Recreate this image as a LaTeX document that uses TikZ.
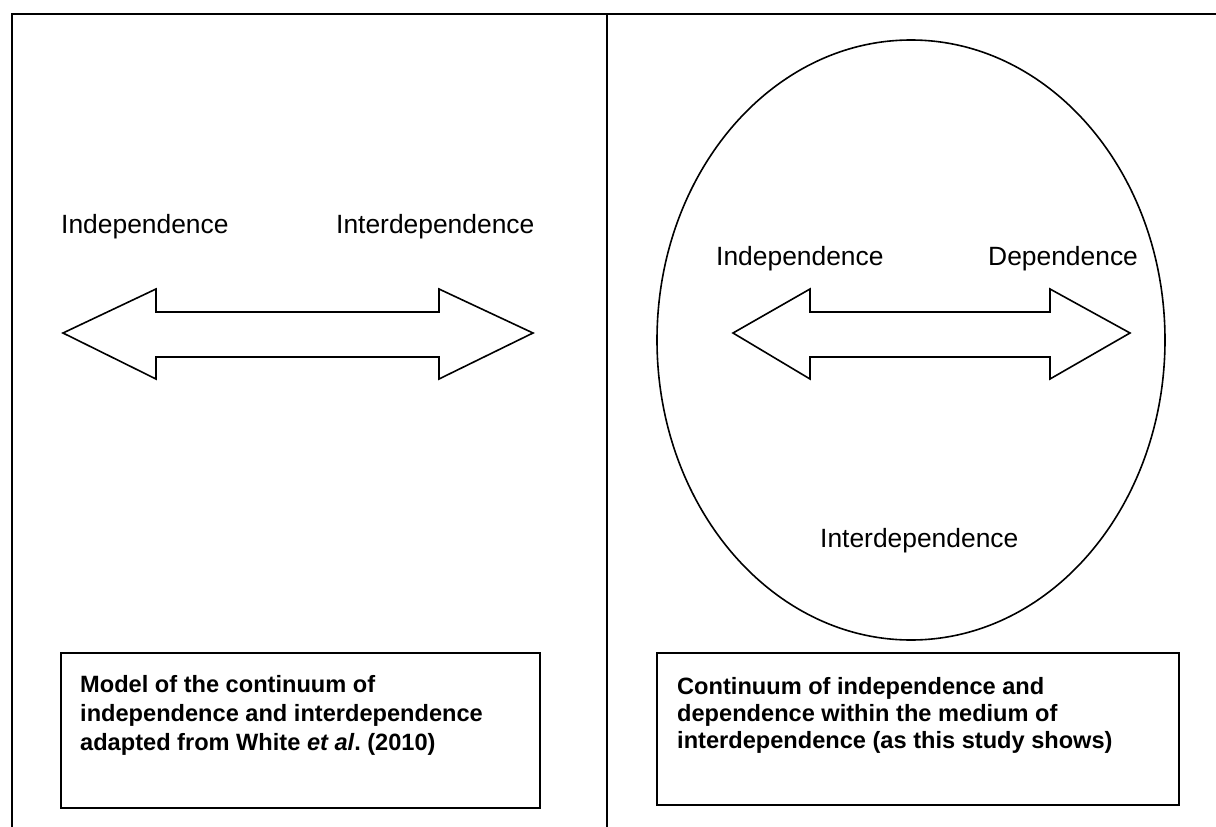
\documentclass[tikz,border=0pt]{standalone}
\usepackage{fontspec}
\setmainfont{Liberation Sans}
\tikzset{
  frame/.style={line width=2.6pt, line cap=rect},
  arrowshape/.style={draw, line width=1.6pt, line join=miter},
  capbox/.style={draw, line width=1.8pt},
  lbl/.style={anchor=base west, inner sep=0pt, font=\fontsize{26.4}{30}\selectfont},
  captext/.style={anchor=base west, inner sep=0pt, font=\fontsize{23.6}{28}\selectfont\bfseries}
}
\begin{document}
\begin{tikzpicture}[x=1pt,y=-1pt]
\useasboundingbox (0,0) rectangle (1216,827);
% frame
\coordinate (tl) at (12,14);
\coordinate (tr) at (1217,14);
\coordinate (bl) at (12,828);
\coordinate (dt) at (607,14);
\coordinate (db) at (607,828);
\draw[frame] (bl) -- (tl) -- (tr);
\draw[frame] (dt) -- (db);
% left panel
\node[lbl] (l1) at (61,233) {Independence};
\node[lbl] (l2) at (336,233) {Interdependence};
\draw[arrowshape] (63,333) -- (156,289) -- (156,312) -- (439,312) -- (439,289) -- (533,333)
  -- (439,379) -- (439,357) -- (156,357) -- (156,379) -- cycle;
\draw[capbox] (61,653) rectangle (540,808);
\node[captext] (c1) at (80,692) {Model of the continuum of};
\node[captext] (c2) at (80,721) {independence and interdependence};
\node[captext] (c3) at (80,750) {adapted from White \textit{et al}.\ (2010)};
% right panel
\draw[line width=1.6pt] (911,340) ellipse [x radius=254, y radius=300];
\node[lbl] (r1) at (716,265) {Independence};
\node[lbl] (r2) at (988,265) {Dependence};
\node[lbl] (r3) at (820,547) {Interdependence};
\draw[arrowshape] (733,333) -- (810,289) -- (810,312) -- (1050,312) -- (1050,289) -- (1130,333)
  -- (1050,379) -- (1050,357) -- (810,357) -- (810,379) -- cycle;
\draw[capbox] (657,653) rectangle (1179,805);
\node[captext] (d1) at (677,694) {Continuum of independence and};
\node[captext] (d2) at (677,721) {dependence within the medium of};
\node[captext] (d3) at (677,748) {interdependence (as this study shows)};
\end{tikzpicture}
\end{document}
